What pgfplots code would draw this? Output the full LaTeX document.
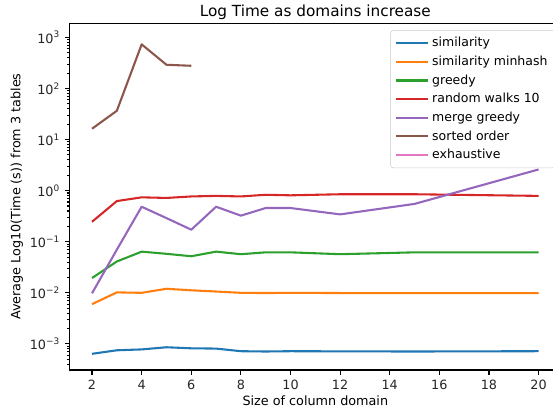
\documentclass[border=0pt]{standalone}
\usepackage{pgfplots}
\pgfplotsset{compat=1.18}
\usepackage{fontspec}
\setmainfont{DejaVu Sans}
\definecolor{C0}{HTML}{1F77B4}
\definecolor{C1}{HTML}{FF7F0E}
\definecolor{C2}{HTML}{2CA02C}
\definecolor{C3}{HTML}{D62728}
\definecolor{C4}{HTML}{9467BD}
\definecolor{C5}{HTML}{8C564B}
\definecolor{C6}{HTML}{E377C2}
\begin{document}
\begin{tikzpicture}
\begin{axis}[
  scale only axis,
  width=353.7bp, height=249.6bp,
  ymode=log,
  xmin=1.1, xmax=20.9,
  ymin=3.09e-4, ymax=1885,
  xtick={2,4,...,20},
  ytick={1e-3,1e-2,1e-1,1,1e1,1e2,1e3},
  yticklabels={10\textsuperscript{−3},10\textsuperscript{−2},10\textsuperscript{−1},10\textsuperscript{0},10\textsuperscript{1},10\textsuperscript{2},10\textsuperscript{3}},
  minor ytick={4e-4,5e-4,6e-4,7e-4,8e-4,9e-4,
    2e-3,3e-3,4e-3,5e-3,6e-3,7e-3,8e-3,9e-3,
    2e-2,3e-2,4e-2,5e-2,6e-2,7e-2,8e-2,9e-2,
    2e-1,3e-1,4e-1,5e-1,6e-1,7e-1,8e-1,9e-1,
    2,3,4,5,6,7,8,9,
    20,30,40,50,60,70,80,90,
    200,300,400,500,600,700,800,900},
  /pgf/number format/assume math mode=true,
  tick align=outside,
  xtick pos=bottom, ytick pos=left,
  major tick length=3.5bp, minor tick length=2bp,
  every tick/.style={line width=0.8bp, black},
  axis line style={line width=0.8bp},
  tick label style={font=\fontsize{9.2bp}{11bp}\selectfont, color=black!85},
  label style={font=\fontsize{9.2bp}{11bp}\selectfont},
  title style={font=\fontsize{11bp}{13bp}\selectfont, yshift=-7bp},
  title={Log Time as domains increase},
  xlabel={Size of column domain},
  ylabel={Average Log10(Time (s)) from 3 tables},
  xlabel style={yshift=2bp},
  ylabel style={yshift=-2bp},
  legend style={at={(1,1)}, anchor=north east, xshift=-4bp, yshift=-5bp,
    draw=black!20, rounded corners=2bp, fill=white, fill opacity=0.8, text opacity=1,
    font=\fontsize{9bp}{10.5bp}\selectfont, row sep=1.1bp, inner xsep=3.5bp, inner ysep=3bp},
  legend cell align=left,
  legend image code/.code={\draw[#1, line width=1.5bp] (0bp,0bp) -- (19bp,0bp); \path (0bp,0bp) -- (23bp,0bp);},
  every axis plot/.append style={line width=1.5bp, line join=round},
]
\addplot[C0] coordinates {(2,6.4e-4)(3,7.5e-4)(4,7.8e-4)(5,8.6e-4)(6,8.2e-4)(7,8.1e-4)(8,7.2e-4)(9,7.1e-4)(10,7.2e-4)(12,7.15e-4)(15,7.1e-4)(20,7.2e-4)};
\addlegendentry{similarity}
\addplot[C1] coordinates {(2,6.0e-3)(3,0.0102)(4,0.0100)(5,0.0120)(6,0.0112)(7,0.0106)(8,0.0100)(9,0.0099)(10,0.0100)(12,0.0099)(15,0.0099)(20,0.0099)};
\addlegendentry{similarity minhash}
\addplot[C2] coordinates {(2,0.0195)(3,0.041)(4,0.064)(5,0.058)(6,0.052)(7,0.064)(8,0.057)(9,0.062)(10,0.062)(12,0.057)(15,0.062)(20,0.062)};
\addlegendentry{greedy}
\addplot[C3] coordinates {(2,0.246)(3,0.625)(4,0.74)(5,0.72)(6,0.77)(7,0.79)(8,0.77)(9,0.83)(10,0.81)(12,0.85)(15,0.85)(20,0.79)};
\addlegendentry{random walks 10}
\addplot[C4] coordinates {(2,0.0098)(3,0.07)(4,0.484)(5,0.29)(6,0.172)(7,0.484)(8,0.324)(9,0.457)(10,0.457)(12,0.343)(15,0.55)(20,2.6)};
\addlegendentry{merge greedy}
\addplot[C5] coordinates {(2,16.3)(3,36.6)(4,730)(5,291)(6,278)};
\addlegendentry{sorted order}
\addlegendimage{C6, line width=1.5bp}
\addlegendentry{exhaustive}
\end{axis}
\pgfresetboundingbox
\useasboundingbox (-50.2bp,-29.5bp) rectangle (348bp,266.4bp);
\end{tikzpicture}
\end{document}
